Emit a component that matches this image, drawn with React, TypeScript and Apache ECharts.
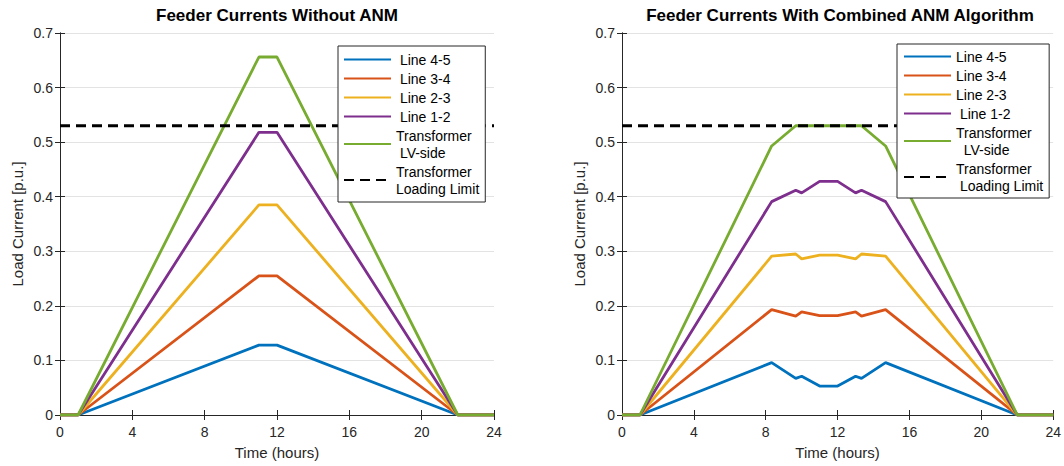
import React, { useEffect, useRef } from "react";
import * as echarts from "echarts";

// ---- Data ----
const hoursWithout = [0, 1, 11, 12, 22, 24];
const line45Without = [0, 0, 0.128, 0.128, 0, 0];
const line34Without = [0, 0, 0.255, 0.255, 0, 0];
const line23Without = [0, 0, 0.385, 0.385, 0, 0];
const line12Without = [0, 0, 0.518, 0.518, 0, 0];
const trafoWithout = [0, 0, 0.656, 0.656, 0, 0];

const hoursWith = [0, 1, 8.33, 9.67, 10, 11, 12, 13, 13.33, 14.67, 22, 24];
const line45With = [0, 0, 0.096, 0.067, 0.071, 0.053, 0.053, 0.071, 0.067, 0.096, 0, 0];
const line34With = [0, 0, 0.193, 0.181, 0.189, 0.182, 0.182, 0.189, 0.181, 0.193, 0, 0];
const line23With = [0, 0, 0.291, 0.295, 0.286, 0.293, 0.293, 0.286, 0.295, 0.291, 0, 0];
const line12With = [0, 0, 0.391, 0.412, 0.407, 0.428, 0.428, 0.407, 0.412, 0.391, 0, 0];
const trafoWith = [0, 0, 0.493, 0.53, 0.53, 0.53, 0.53, 0.53, 0.53, 0.493, 0, 0];

const limitHours = [0, 24];
const limitValues = [0.53, 0.53];

const xTicks = [0, 4, 8, 12, 16, 20, 24];
const yTicks = [0, 0.1, 0.2, 0.3, 0.4, 0.5, 0.6, 0.7];

const seriesNames = ["Line 4-5", "Line 3-4", "Line 2-3", "Line 1-2", "Transformer LV-side", "Transformer Loading Limit"];
const colors = ["#0072BD", "#D95319", "#EDB120", "#7E2F8E", "#77AC30", "#000000"];

const titles = ["Feeder Currents Without ANM", "Feeder Currents With Combined ANM Algorithm"];

const FONT = "'Liberation Sans', Arial, Helvetica, sans-serif";
const AX = "#262626";

function pairs(xs: number[], ys: number[]) {
  return xs.map((x, i) => [x, ys[i]]);
}

export default function App() {
  const ref = useRef<HTMLDivElement>(null);
  useEffect(() => {
    if (!ref.current) return;
    const chart = echarts.init(ref.current, undefined, { renderer: "svg" });

    const grids = [
      { left: 60, top: 33, width: 434, height: 382 },
      { left: 622, top: 33, width: 435, height: 382 },
    ];

    const xAxes: any[] = [];
    const yAxes: any[] = [];
    [0, 1].forEach((g) => {
      xAxes.push({
        type: "value", gridIndex: g, min: xTicks[0], max: xTicks[xTicks.length - 1], interval: 4,
        position: "bottom",
        axisLine: { show: true, lineStyle: { color: AX, width: 1 } },
        axisTick: { show: true, inside: true, length: 5, lineStyle: { color: AX } },
        axisLabel: { show: true, color: AX, fontSize: 14, fontFamily: FONT, margin: 10 },
        splitLine: { show: false },
        name: "Time (hours)", nameLocation: "middle", nameGap: 30,
        nameTextStyle: { fontSize: 15, color: AX, fontFamily: FONT },
      });
      xAxes.push({
        type: "value", gridIndex: g, min: 0, max: 24, interval: 4, position: "top",
        axisLine: { show: true, lineStyle: { color: AX, width: 1 } },
        axisTick: { show: true, inside: true, length: 5, lineStyle: { color: AX } },
        axisLabel: { show: false }, splitLine: { show: false },
      });
      yAxes.push({
        type: "value", gridIndex: g, min: yTicks[0], max: yTicks[yTicks.length - 1], interval: 0.1,
        position: "left",
        axisLine: { show: true, lineStyle: { color: AX, width: 1 } },
        axisTick: { show: true, inside: true, length: 5, lineStyle: { color: AX } },
        axisLabel: {
          show: true, color: AX, fontSize: 14, fontFamily: FONT, margin: 7,
          formatter: (v: number) => (v === 0 ? "0" : v.toFixed(1)),
        },
        splitLine: { show: true, lineStyle: { color: "#e3e3e3", width: 1 } },
        name: "Load Current [p.u.]", nameLocation: "middle", nameGap: 35,
        nameTextStyle: { fontSize: 15, color: AX, fontFamily: FONT },
      });
      yAxes.push({
        type: "value", gridIndex: g, min: 0, max: 0.7, interval: 0.1, position: "right",
        axisLine: { show: true, lineStyle: { color: AX, width: 1 } },
        axisTick: { show: true, inside: true, length: 5, lineStyle: { color: AX } },
        axisLabel: { show: false }, splitLine: { show: false },
      });
    });

    const withoutData = [line45Without, line34Without, line23Without, line12Without, trafoWithout];
    const withData = [line45With, line34With, line23With, line12With, trafoWith];

    const series: any[] = [];
    const mk = (name: string, data: number[][], color: string, g: number, dashed: boolean) => ({
      type: "line", name, data, xAxisIndex: g * 2, yAxisIndex: g * 2,
      symbol: "none", showSymbol: false, silent: true,
      lineStyle: { color, width: 2.8, type: dashed ? [10, 6] : "solid" },
      itemStyle: { color },
      z: 2,
    });
    withoutData.forEach((d, i) => series.push(mk(seriesNames[i], pairs(hoursWithout, d), colors[i], 0, false)));
    series.push(mk(seriesNames[5], pairs(limitHours, limitValues), colors[5], 0, true));
    withData.forEach((d, i) => series.push(mk(seriesNames[i], pairs(hoursWith, d), colors[i], 1, false)));
    series.push(mk(seriesNames[5], pairs(limitHours, limitValues), colors[5], 1, true));

    const leftLabels: Record<string, string> = {
      "Line 4-5": " Line 4-5", "Line 3-4": " Line 3-4", "Line 2-3": " Line 2-3", "Line 1-2": " Line 1-2",
      "Transformer LV-side": "Transformer\n LV-side", "Transformer Loading Limit": "Transformer\nLoading Limit",
    };
    const rightLabels: Record<string, string> = {
      "Line 4-5": "Line 4-5", "Line 3-4": "Line 3-4", "Line 2-3": "Line 2-3", "Line 1-2": " Line 1-2",
      "Transformer LV-side": "Transformer\n  LV-side", "Transformer Loading Limit": "Transformer\n Loading Limit",
    };
    const legendBase = {
      orient: "vertical", itemWidth: 47, itemHeight: 12, itemGap: 2,
      borderColor: AX, borderWidth: 1, borderRadius: 0, backgroundColor: "#ffffff",
      textStyle: { fontSize: 14, color: "#000", fontFamily: FONT, lineHeight: 17 },
      itemStyle: { opacity: 0, borderWidth: 0 },
      selectedMode: false, data: seriesNames, z: 10,
    };

    chart.setOption({
      animation: false,
      backgroundColor: "#ffffff",
      title: [
        { text: titles[0], left: 277, top: 7, textAlign: "center", padding: 0,
          textStyle: { fontSize: 17, fontWeight: "bold", color: "#000", fontFamily: FONT } },
        { text: titles[1], left: 840, top: 7, textAlign: "center", padding: 0,
          textStyle: { fontSize: 17, fontWeight: "bold", color: "#000", fontFamily: FONT } },
      ],
      legend: [
        { ...legendBase, left: 338, top: 46, padding: [5, 6, 5, 5], formatter: (n: string) => leftLabels[n] },
        { ...legendBase, left: 897, top: 44, padding: [4, 6, 4, 6], formatter: (n: string) => rightLabels[n] },
      ],
      grid: grids,
      xAxis: xAxes,
      yAxis: yAxes,
      series,
    });
    return () => chart.dispose();
  }, []);
  return (
    <div
      ref={ref}
      style={{ position: "fixed", left: 0, top: 0, width: 1064, height: 466, background: "#fff" }}
    />
  );
}
